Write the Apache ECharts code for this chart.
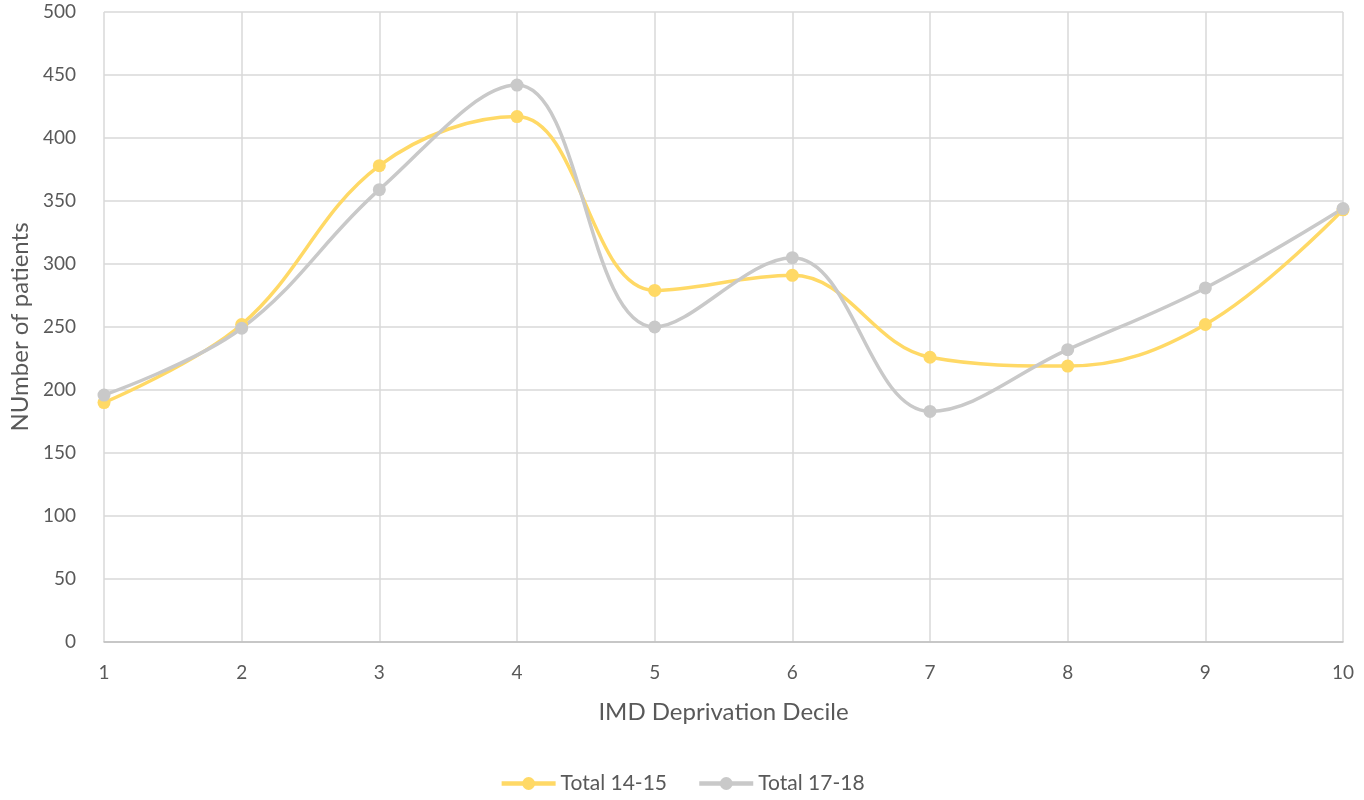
<!DOCTYPE html>
<html><head><meta charset="utf-8">
<script src="https://cdn.jsdelivr.net/npm/echarts@6/dist/echarts.min.js"></script>
<style>html,body{margin:0;padding:0;background:#fff}#c{width:1364px;height:800px}</style>
</head><body><div id="c"></div>
<script>
const categories = ['1','2','3','4','5','6','7','8','9','10'];
const total1415 = [190, 252, 378, 417, 279, 291, 226, 219, 252, 343];
const total1718 = [196, 249, 359, 442, 250, 305, 183, 232, 281, 344];
const seriesNames = ['Total 14-15', 'Total 17-18'];
const FONT = 'Lato, "Open Sans", sans-serif';
const TXT = '#595959';
const chart = echarts.init(document.getElementById('c'), null, {renderer:'canvas'});
chart.setOption({
  animation:false,
  textStyle:{fontFamily:FONT},
  grid:{left:104, right:21, top:12, bottom:158},
  legend:{
    bottom:1, left:'center', itemWidth:54, itemHeight:16, itemGap:30,
    lineStyle:{width:4.5},
    textStyle:{color:TXT, fontSize:21, fontFamily:FONT},
    data:seriesNames
  },
  xAxis:{
    type:'category', data:categories, boundaryGap:false,
    name:'IMD Deprivation Decile', nameLocation:'middle', nameGap:58,
    nameTextStyle:{color:TXT, fontSize:24, fontFamily:FONT},
    axisLine:{lineStyle:{color:'#BFBFBF', width:1.5}},
    axisTick:{show:false},
    axisLabel:{color:TXT, fontSize:19, margin:21, fontFamily:FONT},
    splitLine:{show:true, lineStyle:{color:'#D9D9D9', width:1.5}}
  },
  yAxis:{
    type:'value', min:0, max:500, interval:50,
    name:'NUmber of patients', nameLocation:'middle', nameGap:70,
    nameTextStyle:{color:TXT, fontSize:24, fontFamily:FONT},
    axisLine:{show:false}, axisTick:{show:false},
    axisLabel:{color:TXT, fontSize:19, margin:28, fontFamily:FONT},
    splitLine:{lineStyle:{color:'#D9D9D9', width:1.5}}
  },
  series:[
    {name:seriesNames[0], type:'line', data:total1415, smooth:0.38,
     symbol:'circle', symbolSize:13,
     lineStyle:{color:'#FFD966', width:3.5}, itemStyle:{color:'#FFD966'}},
    {name:seriesNames[1], type:'line', data:total1718, smooth:0.38,
     symbol:'circle', symbolSize:13,
     lineStyle:{color:'#C9C9C9', width:3.5}, itemStyle:{color:'#C9C9C9'}}
  ]
});
</script></body></html>
